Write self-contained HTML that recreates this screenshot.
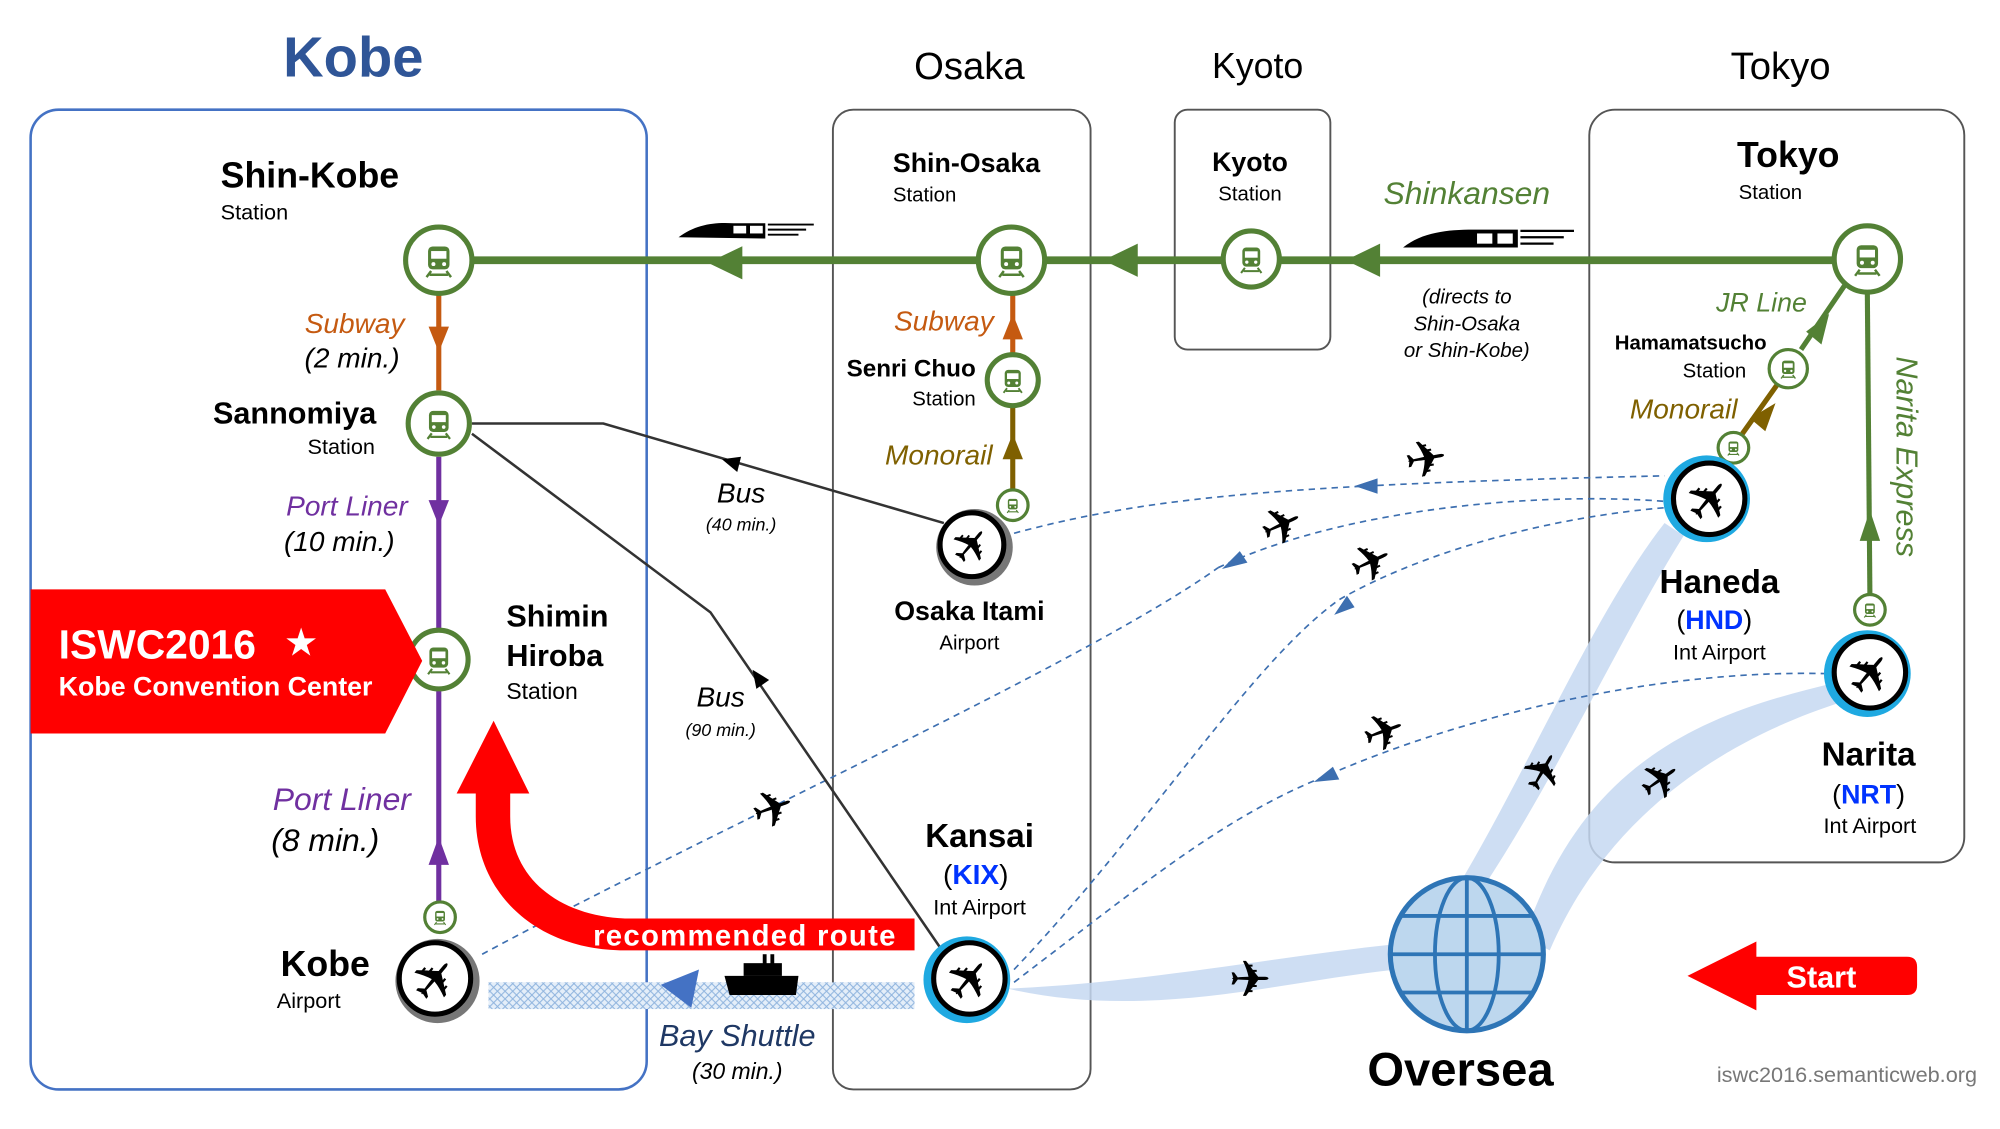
<!DOCTYPE html>
<html><head><meta charset="utf-8"><style>
html,body{margin:0;padding:0;background:#fff;}
svg{display:block}
text{font-family:"Liberation Sans",Arial,sans-serif;}
</style></head><body>
<svg width="2000" height="1129" viewBox="0 0 1568 885" preserveAspectRatio="none" xmlns="http://www.w3.org/2000/svg">
<defs>
<pattern id="hatch" width="6" height="6" patternUnits="userSpaceOnUse">
<rect width="6" height="6" fill="#e4eef9"/>
<path d="M0 3 L3 0 L6 3 L3 6Z" fill="none" stroke="#8fb4de" stroke-width="0.8"/>
</pattern>
<g id="train">
<rect x="-7" y="-9" width="14" height="15" rx="3" fill="#538135"/>
<rect x="-5" y="-6" width="10" height="5" fill="#fff"/>
<circle cx="-3.5" cy="2.5" r="1.3" fill="#fff"/><circle cx="3.5" cy="2.5" r="1.3" fill="#fff"/>
<path d="M-5 7 L-8 11 M5 7 L8 11 M-6 9.5 H6" stroke="#538135" stroke-width="1.6"/>
</g>
<g id="plane"><text x="0" y="0" font-family="DejaVu Sans" font-size="40" text-anchor="middle" dominant-baseline="central" fill="#000">✈</text></g>
</defs>

<!-- boxes -->
<rect x="24" y="86" width="483" height="768" rx="22" fill="none" stroke="#4472c4" stroke-width="2"/>
<rect x="653" y="86" width="202" height="768" rx="16" fill="none" stroke="#555" stroke-width="1.5"/>
<rect x="921" y="86" width="122" height="188" rx="10" fill="none" stroke="#555" stroke-width="1.5"/>
<rect x="1246" y="86" width="294" height="590" rx="20" fill="none" stroke="#555" stroke-width="1.5"/>

<text x="277" y="60" font-size="44" font-weight="bold" fill="#2f5597" text-anchor="middle">Kobe</text>
<text x="760" y="62" font-size="30" text-anchor="middle">Osaka</text>
<text x="986" y="61" font-size="28" text-anchor="middle">Kyoto</text>
<text x="1396" y="62" font-size="30" text-anchor="middle">Tokyo</text>

<!-- light blue swoosh -->
<path d="M790 775 C900 800 1000 770 1095 760 L1095 740 C1000 750 900 770 790 775Z" fill="#c5d8f1" opacity="0.85"/>
<path d="M1140 700 C1200 600 1250 480 1305 410 L1320 420 C1270 500 1220 610 1160 700Z" fill="#c5d8f1" opacity="0.85"/>
<path d="M1195 735 C1240 600 1330 560 1440 535 L1445 550 C1350 580 1260 640 1215 745Z" fill="#c5d8f1" opacity="0.85"/>

<!-- dashed flight paths -->
<g fill="none" stroke="#3d6fb0" stroke-width="1.3" stroke-dasharray="5,4">
<path d="M378 748 C560 650 850 520 955 445"/>
<path d="M955 445 C1050 400 1200 385 1305 393"/>
<path d="M795 418 C900 390 1000 380 1305 373"/>
<path d="M795 760 C900 650 980 520 1050 470 C1120 430 1220 405 1305 398"/>
<path d="M795 770 C900 690 960 640 1040 608 C1150 560 1300 525 1430 528"/>
</g>
<path d="M1062 381 L1080 375 L1080 387Z" fill="#3d6fb0"/>
<path d="M958 446 L972 432 L978 441Z" fill="#3d6fb0"/>
<path d="M1046 482 L1056 467 L1062 476Z" fill="#3d6fb0"/>
<path d="M1030 613 L1045 601 L1050 611Z" fill="#3d6fb0"/>

<!-- planes floating -->
<g transform="translate(1118,360) rotate(-10)"><use href="#plane"/></g>
<g transform="translate(1005,412) rotate(-25)"><use href="#plane"/></g>
<g transform="translate(1075,441) rotate(-25)"><use href="#plane"/></g>
<g transform="translate(1085,574) rotate(-20)"><use href="#plane"/></g>
<g transform="translate(1210,605) rotate(-60)"><use href="#plane"/></g>
<g transform="translate(1302,612) rotate(-35)"><use href="#plane"/></g>
<g transform="translate(606,634) rotate(-20)"><use href="#plane"/></g>
<g transform="translate(980,768)"><use href="#plane"/></g>

<!-- bus lines -->
<polyline points="370,332 473,332 740,410" fill="none" stroke="#333" stroke-width="2"/>
<polyline points="370,340 557,480 742,750" fill="none" stroke="#333" stroke-width="2"/>
<path d="M566 360 L581 358 L578 370Z" fill="#000"/>
<path d="M590 525 L603 533 L593 540Z" fill="#000"/>
<text x="581" y="394" font-size="22" font-style="italic" text-anchor="middle">Bus</text>
<text x="581" y="416" font-size="14" font-style="italic" text-anchor="middle">(40 min.)</text>
<text x="565" y="554" font-size="22" font-style="italic" text-anchor="middle">Bus</text>
<text x="565" y="577" font-size="14" font-style="italic" text-anchor="middle">(90 min.)</text>

<!-- shinkansen -->
<line x1="344" y1="204" x2="1464" y2="204" stroke="#538135" stroke-width="6"/>
<path d="M555 206 L582 193 L582 219Z" fill="#538135"/>
<path d="M865 204 L892 191 L892 217Z" fill="#538135"/>
<path d="M1055 204 L1082 191 L1082 217Z" fill="#538135"/>
<g><path d="M532 186 C545 176 560 174 575 175 L600 175 L600 187Z" fill="#000"/><rect x="575" y="177" width="10" height="6" fill="#fff"/><rect x="588" y="177" width="10" height="6" fill="#fff"/><path d="M602 176 H638 M602 180 H632 M602 184 H626" stroke="#000" stroke-width="1.5"/></g>
<g><path d="M1100 194 C1115 182 1135 180 1155 180 L1190 180 L1190 194Z" fill="#000"/><rect x="1158" y="183" width="12" height="8" fill="#fff"/><rect x="1174" y="183" width="12" height="8" fill="#fff"/><path d="M1192 181 H1234 M1192 186 H1226 M1192 191 H1218" stroke="#000" stroke-width="1.8"/></g>
<text x="1150" y="160" font-size="25" font-style="italic" fill="#538135" text-anchor="middle">Shinkansen</text>
<text x="1150" y="238" font-size="16" font-style="italic" text-anchor="middle">(directs to</text>
<text x="1150" y="259" font-size="16" font-style="italic" text-anchor="middle">Shin-Osaka</text>
<text x="1150" y="280" font-size="16" font-style="italic" text-anchor="middle">or Shin-Kobe)</text>

<!-- Kobe lines -->
<line x1="344" y1="230" x2="344" y2="306" stroke="#c55a11" stroke-width="4"/>
<path d="M336 256 L352 256 L344 276Z" fill="#c55a11"/>
<line x1="344" y1="358" x2="344" y2="708" stroke="#7030a0" stroke-width="4"/>
<path d="M336 392 L352 392 L344 412Z" fill="#7030a0"/>
<path d="M336 678 L352 678 L344 656Z" fill="#7030a0"/>
<text x="278" y="261" font-size="22" font-style="italic" fill="#c55a11" text-anchor="middle">Subway</text>
<text x="276" y="288" font-size="22" font-style="italic" text-anchor="middle">(2 min.)</text>
<text x="272" y="404" font-size="22" font-style="italic" fill="#7030a0" text-anchor="middle">Port Liner</text>
<text x="266" y="432" font-size="22" font-style="italic" text-anchor="middle">(10 min.)</text>
<text x="268" y="635" font-size="25" font-style="italic" fill="#7030a0" text-anchor="middle">Port Liner</text>
<text x="255" y="667" font-size="25" font-style="italic" text-anchor="middle">(8 min.)</text>

<!-- Osaka lines -->
<line x1="794" y1="230" x2="794" y2="278" stroke="#c55a11" stroke-width="4"/>
<path d="M786 266 L802 266 L794 246Z" fill="#c55a11"/>
<line x1="794" y1="318" x2="794" y2="384" stroke="#7f6000" stroke-width="4"/>
<path d="M786 360 L802 360 L794 340Z" fill="#7f6000"/>
<text x="740" y="259" font-size="22" font-style="italic" fill="#c55a11" text-anchor="middle">Subway</text>
<text x="736" y="364" font-size="22" font-style="italic" fill="#7f6000" text-anchor="middle">Monorail</text>

<!-- Tokyo lines -->
<line x1="1366" y1="340" x2="1393" y2="302" stroke="#7f6000" stroke-width="4"/>
<path d="M1372 328 L1384 338 L1392 316Z" fill="#7f6000"/>
<line x1="1412" y1="274" x2="1446" y2="224" stroke="#538135" stroke-width="4"/>
<path d="M1416 260 L1428 270 L1434 246Z" fill="#538135"/>
<line x1="1464" y1="230" x2="1466" y2="466" stroke="#538135" stroke-width="4"/>
<path d="M1458 424 L1474 424 L1466 400Z" fill="#538135"/>
<text x="1381" y="244" font-size="21" font-style="italic" fill="#538135" text-anchor="middle">JR Line</text>
<text x="1320" y="328" font-size="22" font-style="italic" fill="#7f6000" text-anchor="middle">Monorail</text>
<text transform="translate(1487,358) rotate(90)" font-size="24" font-style="italic" fill="#538135" text-anchor="middle">Narita Express</text>

<!-- station icons -->
<g fill="#fff" stroke="#538135" stroke-width="4">
<circle cx="344" cy="204" r="26"/><circle cx="793" cy="204" r="26"/><circle cx="981" cy="203" r="22"/><circle cx="1464" cy="203" r="26"/>
<circle cx="344" cy="332" r="24"/><circle cx="344" cy="517" r="23"/><circle cx="794" cy="298" r="20"/>
</g>
<g fill="#fff" stroke="#538135" stroke-width="2.5">
<circle cx="345" cy="719" r="12"/><circle cx="794" cy="396" r="12"/><circle cx="1359" cy="351" r="12"/><circle cx="1402" cy="289" r="15"/><circle cx="1466" cy="478" r="12"/>
</g>
<use href="#train" transform="translate(344,204) scale(1.2)"/>
<use href="#train" transform="translate(793,204) scale(1.2)"/>
<use href="#train" transform="translate(981,203) scale(1)"/>
<use href="#train" transform="translate(1464,203) scale(1.2)"/>
<use href="#train" transform="translate(344,332) scale(1.1)"/>
<use href="#train" transform="translate(344,517) scale(1.05)"/>
<use href="#train" transform="translate(794,298) scale(0.9)"/>
<use href="#train" transform="translate(345,719) scale(0.55)"/>
<use href="#train" transform="translate(794,396) scale(0.55)"/>
<use href="#train" transform="translate(1359,351) scale(0.55)"/>
<use href="#train" transform="translate(1402,289) scale(0.7)"/>
<use href="#train" transform="translate(1466,478) scale(0.55)"/>

<!-- station labels -->
<text x="173" y="147" font-size="28" font-weight="bold">Shin-Kobe</text>
<text x="173" y="172" font-size="17">Station</text>
<text x="295" y="332" font-size="24" font-weight="bold" text-anchor="end">Sannomiya</text>
<text x="294" y="356" font-size="17" text-anchor="end">Station</text>
<text x="397" y="491" font-size="24" font-weight="bold">Shimin</text>
<text x="397" y="522" font-size="24" font-weight="bold">Hiroba</text>
<text x="397" y="548" font-size="18">Station</text>
<text x="700" y="135" font-size="21" font-weight="bold">Shin-Osaka</text>
<text x="700" y="158" font-size="16">Station</text>
<text x="765" y="295" font-size="19" font-weight="bold" text-anchor="end">Senri Chuo</text>
<text x="765" y="318" font-size="16" text-anchor="end">Station</text>
<text x="980" y="134" font-size="21" font-weight="bold" text-anchor="middle">Kyoto</text>
<text x="980" y="157" font-size="16" text-anchor="middle">Station</text>
<text x="1402" y="131" font-size="28" font-weight="bold" text-anchor="middle">Tokyo</text>
<text x="1388" y="156" font-size="16" text-anchor="middle">Station</text>
<text x="1385" y="274" font-size="16" font-weight="bold" text-anchor="end">Hamamatsucho</text>
<text x="1369" y="296" font-size="16" text-anchor="end">Station</text>

<!-- airports -->
<circle cx="343" cy="769" r="33" fill="#777"/><circle cx="341" cy="767" r="28" fill="#fff" stroke="#000" stroke-width="4"/>
<circle cx="764" cy="429" r="30" fill="#777"/><circle cx="762" cy="427" r="25" fill="#fff" stroke="#000" stroke-width="4"/>
<circle cx="758" cy="768" r="34" fill="#1fa9e1"/><circle cx="760" cy="767" r="28" fill="#fff" stroke="#000" stroke-width="4"/>
<circle cx="1338" cy="391" r="34" fill="#1fa9e1"/><circle cx="1340" cy="391" r="28" fill="#fff" stroke="#000" stroke-width="4"/>
<circle cx="1464" cy="528" r="34" fill="#1fa9e1"/><circle cx="1466" cy="527" r="28" fill="#fff" stroke="#000" stroke-width="4"/>
<g transform="translate(341,768) rotate(-50) scale(1.1)"><use href="#plane"/></g>
<g transform="translate(762,428) rotate(-50) scale(0.95)"><use href="#plane"/></g>
<g transform="translate(760,768) rotate(-50) scale(1.1)"><use href="#plane"/></g>
<g transform="translate(1340,392) rotate(-50) scale(1.1)"><use href="#plane"/></g>
<g transform="translate(1466,528) rotate(-50) scale(1.1)"><use href="#plane"/></g>

<text x="290" y="765" font-size="28" font-weight="bold" text-anchor="end">Kobe</text>
<text x="217" y="790" font-size="17">Airport</text>
<text x="760" y="486" font-size="21" font-weight="bold" text-anchor="middle">Osaka Itami</text>
<text x="760" y="509" font-size="16" text-anchor="middle">Airport</text>
<text x="768" y="664" font-size="26" font-weight="bold" text-anchor="middle">Kansai</text>
<text x="765" y="693" font-size="22" text-anchor="middle">(<tspan fill="#0033ff" font-weight="bold">KIX</tspan>)</text>
<text x="768" y="717" font-size="17" text-anchor="middle">Int Airport</text>
<text x="1348" y="465" font-size="26" font-weight="bold" text-anchor="middle">Haneda</text>
<text x="1344" y="493" font-size="21" text-anchor="middle">(<tspan fill="#0033ff" font-weight="bold">HND</tspan>)</text>
<text x="1348" y="517" font-size="17" text-anchor="middle">Int Airport</text>
<text x="1465" y="600" font-size="26" font-weight="bold" text-anchor="middle">Narita</text>
<text x="1465" y="630" font-size="21" text-anchor="middle">(<tspan fill="#0033ff" font-weight="bold">NRT</tspan>)</text>
<text x="1466" y="653" font-size="17" text-anchor="middle">Int Airport</text>

<!-- ISWC banner -->
<path d="M24 462 L302 462 L331 518 L302 575 L24 575Z" fill="#ff0000"/>
<text x="46" y="516" font-size="32" font-weight="bold" fill="#fff">ISWC2016</text>
<text x="236" y="514" font-size="30" fill="#fff" text-anchor="middle">★</text>
<text x="46" y="545" font-size="21" font-weight="bold" fill="#fff">Kobe Convention Center</text>

<!-- recommended route arrow -->
<path d="M717 720 L717 745 L490 745 C420 745 373 700 373 640 L373 622 L358 622 L387 565 L415 622 L400 622 L400 640 C400 690 440 718 490 720Z" fill="#ff0000"/>
<text x="584" y="741" font-size="23" font-weight="bold" fill="#fff" text-anchor="middle" letter-spacing="1">recommended  route</text>

<!-- bay shuttle -->
<rect x="383" y="770" width="334" height="21" fill="url(#hatch)"/>
<path d="M518 772 L548 760 L542 790Z" fill="#4472c4"/>
<g fill="#000"><path d="M568 765 L626 765 L624 780 L572 780Z"/><rect x="583" y="755" width="30" height="10"/><rect x="598" y="748" width="3" height="8"/><rect x="604" y="748" width="3" height="8"/></g>
<text x="578" y="820" font-size="24" font-style="italic" fill="#1f3864" text-anchor="middle">Bay Shuttle</text>
<text x="578" y="846" font-size="18" font-style="italic" text-anchor="middle">(30 min.)</text>

<!-- globe -->
<circle cx="1150" cy="748" r="60" fill="#bdd7ee" stroke="#2e75b6" stroke-width="4"/>
<g fill="none" stroke="#2e75b6" stroke-width="3">
<ellipse cx="1150" cy="748" rx="25" ry="60"/><line x1="1150" y1="688" x2="1150" y2="808"/>
<line x1="1090" y1="748" x2="1210" y2="748"/>
<path d="M1098 718 H1202 M1098 778 H1202"/>
</g>
<text x="1145" y="851" font-size="37" font-weight="bold" text-anchor="middle">Oversea</text>

<!-- start arrow -->
<path d="M1323 765 L1377 738 L1377 750 L1495 750 Q1503 750 1503 758 L1503 772 Q1503 780 1495 780 L1377 780 L1377 792Z" fill="#ff0000"/>
<text x="1428" y="774" font-size="24" font-weight="bold" fill="#fff" text-anchor="middle">Start</text>

<text x="1550" y="848" font-size="17" fill="#777" text-anchor="end">iswc2016.semanticweb.org</text>
</svg>
</body></html>
